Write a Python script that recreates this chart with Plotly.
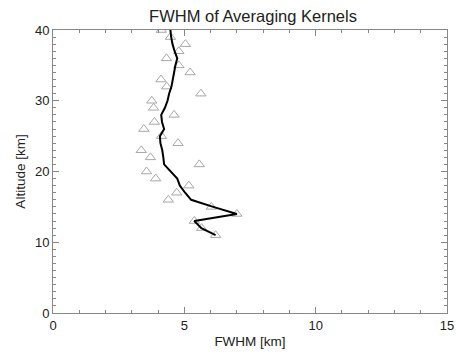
import plotly.graph_objects as go

altitude = list(range(11, 41))
fwhm_line = [6.19, 5.65, 5.38, 7.0, 6.1, 5.26, 5.03, 4.83, 4.73, 4.46,
             4.23, 4.2, 4.16, 4.09, 4.07, 4.23, 4.15, 4.12, 4.26, 4.36,
             4.42, 4.51, 4.57, 4.61, 4.66, 4.73, 4.63, 4.55, 4.5, 4.47]
fwhm_pts = [6.19, 5.66, 5.38, 7.0, 6.03, 4.39, 4.71, 5.17, 3.91, 3.56,
            5.57, 3.71, 3.36, 4.76, 4.13, 3.46, 3.86, 4.61, 3.83, 3.76,
            5.63, 4.33, 4.11, 5.22, 4.79, 4.32, 4.79, 5.04, 4.47, 4.12]

title_text = "FWHM of Averaging Kernels"
x_title = "FWHM [km]"
y_title = "Altitude [km]"

FONT = "Liberation Sans, Arial"
TXT = "#222222"

fig = go.Figure()
fig.add_trace(go.Scatter(x=fwhm_pts, y=altitude, mode="markers",
                         marker=dict(symbol="triangle-up-open", size=9,
                                     color="#a8a8a8", line=dict(width=1)),
                         showlegend=False))
fig.add_trace(go.Scatter(x=fwhm_line, y=altitude, mode="lines",
                         line=dict(color="black", width=2),
                         showlegend=False))

axis_common = dict(showgrid=False, zeroline=False, showline=True,
                   linecolor="#888888", linewidth=1, mirror="allticks",
                   ticks="inside", ticklen=6, tickcolor="#888888",
                   ticklabeloverflow="allow",
                   tickfont=dict(family=FONT, size=13, color=TXT),
                   minor=dict(ticks="inside", ticklen=3, tickcolor="#888888", dtick=1))

fig.update_xaxes(range=[0, 15], tick0=0, dtick=5, **axis_common,
                 title=dict(text=x_title, standoff=4,
                            font=dict(family=FONT, size=13.5, color=TXT)))
fig.update_yaxes(range=[0, 40], tick0=0, dtick=10, **axis_common,
                 title=dict(text=y_title, standoff=6,
                            font=dict(family=FONT, size=13.5, color=TXT)))

fig.update_layout(
    width=457, height=353,
    margin=dict(l=53, r=3, t=30, b=40),
    plot_bgcolor="white", paper_bgcolor="white",
    title=dict(text=title_text, x=253/457, xanchor="center",
               y=1 - 16/353, yanchor="middle",
               font=dict(family=FONT, size=16.5, color=TXT)),
)

fig.write_html("out.html")
